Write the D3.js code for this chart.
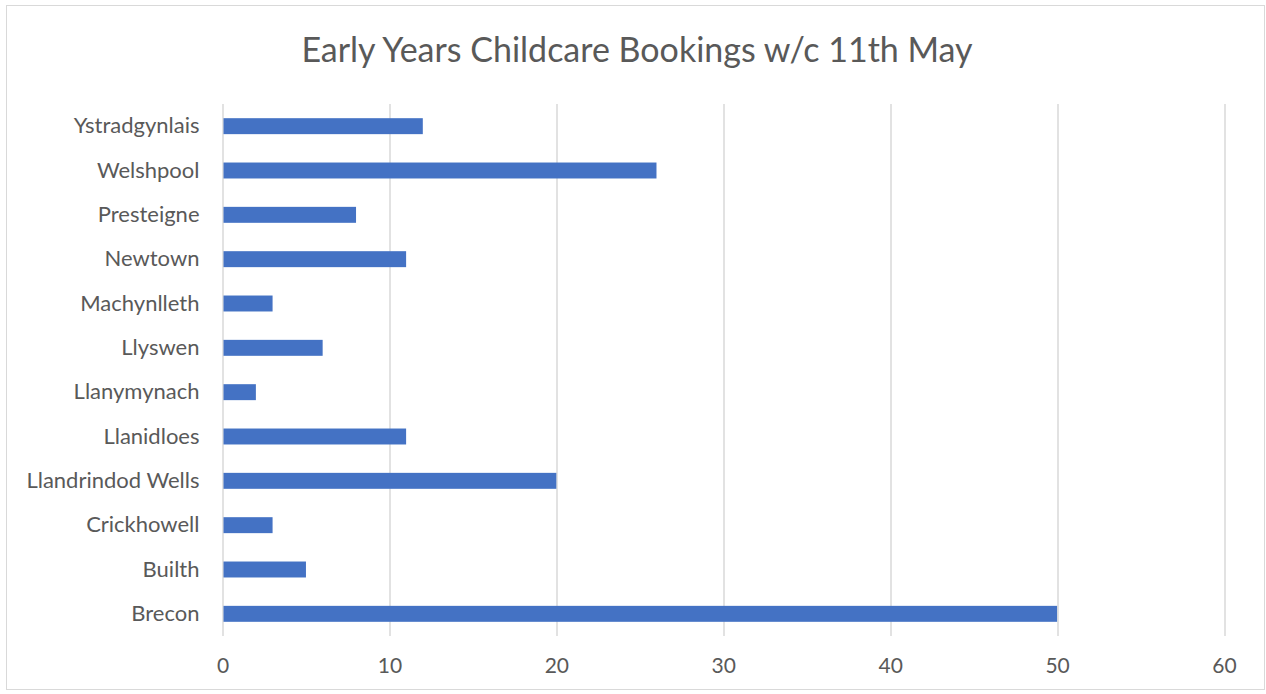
<!DOCTYPE html>
<html>
<head>
<meta charset="utf-8">
<script src="https://cdn.jsdelivr.net/npm/d3@7"></script>
<style>
  body { margin: 0; background: #fff; }
  svg { font-family: Lato, "Open Sans", sans-serif; }
</style>
</head>
<body>
<div id="chart"></div>
<script>
// Chart values
const towns = ["Ystradgynlais", "Welshpool", "Presteigne", "Newtown", "Machynlleth", "Llyswen",
    "Llanymynach", "Llanidloes", "Llandrindod Wells", "Crickhowell", "Builth ", "Brecon"];
const bookings = [12, 26, 8, 11, 3, 6, 2, 11, 20, 3, 5, 50];
const xTicks = [0, 10, 20, 30, 40, 50, 60];
const title = "Early Years Childcare Bookings w/c 11th May";

const W = 1266, H = 694;
const margin = { top: 104, right: 42, bottom: 58, left: 222.5 };
const width = W - margin.left - margin.right;
const height = H - margin.top - margin.bottom;

const svg = d3.select("#chart")
    .append("svg")
    .attr("width", W)
    .attr("height", H);

// outer frame
svg.append("rect")
    .attr("x", 6.5).attr("y", 5.5)
    .attr("width", 1258).attr("height", 684)
    .attr("fill", "#fff")
    .attr("stroke", "#d9d9d9")
    .attr("stroke-width", 1);

svg.append("text")
    .attr("x", 637)
    .attr("y", 62)
    .attr("text-anchor", "middle")
    .style("font-size", "34px")
    .style("fill", "#595959")
    .text(title);

const g = svg.append("g")
    .attr("transform", `translate(${margin.left},${margin.top})`);

const x = d3.scaleLinear().domain([0, 60]).range([0, width]);
const y = d3.scaleBand().domain(towns).range([0, height]).paddingInner(0.64).paddingOuter(0.32);

// gridlines
g.selectAll(".grid")
    .data(xTicks)
    .enter().append("line")
    .attr("x1", d => Math.round(x(d)) + 0.5)
    .attr("x2", d => Math.round(x(d)) + 0.5)
    .attr("y1", 0)
    .attr("y2", height)
    .attr("stroke", "#d9d9d9")
    .attr("stroke-width", 1.5);

// bars
g.selectAll(".bar")
    .data(towns)
    .enter().append("rect")
    .attr("x", x(0) + 1)
    .attr("y", d => y(d))
    .attr("width", (d, i) => x(bookings[i]) - x(0) - 1)
    .attr("height", y.bandwidth())
    .attr("fill", "#4472c4");

// x axis labels
const xAxis = g.append("g")
    .attr("transform", `translate(0,${height})`)
    .call(d3.axisBottom(x).tickValues(xTicks).tickSize(0).tickPadding(22));
xAxis.select(".domain").remove();
xAxis.selectAll("text")
    .style("font-size", "21px")
    .style("font-family", "Lato, 'Open Sans', sans-serif")
    .style("fill", "#595959");

// y axis labels
const yAxis = g.append("g")
    .call(d3.axisLeft(y).tickSize(0).tickPadding(23));
yAxis.select(".domain").remove();
yAxis.selectAll("text")
    .style("font-size", "22px")
    .style("font-family", "Lato, 'Open Sans', sans-serif")
    .style("fill", "#595959");
</script>
</body>
</html>
